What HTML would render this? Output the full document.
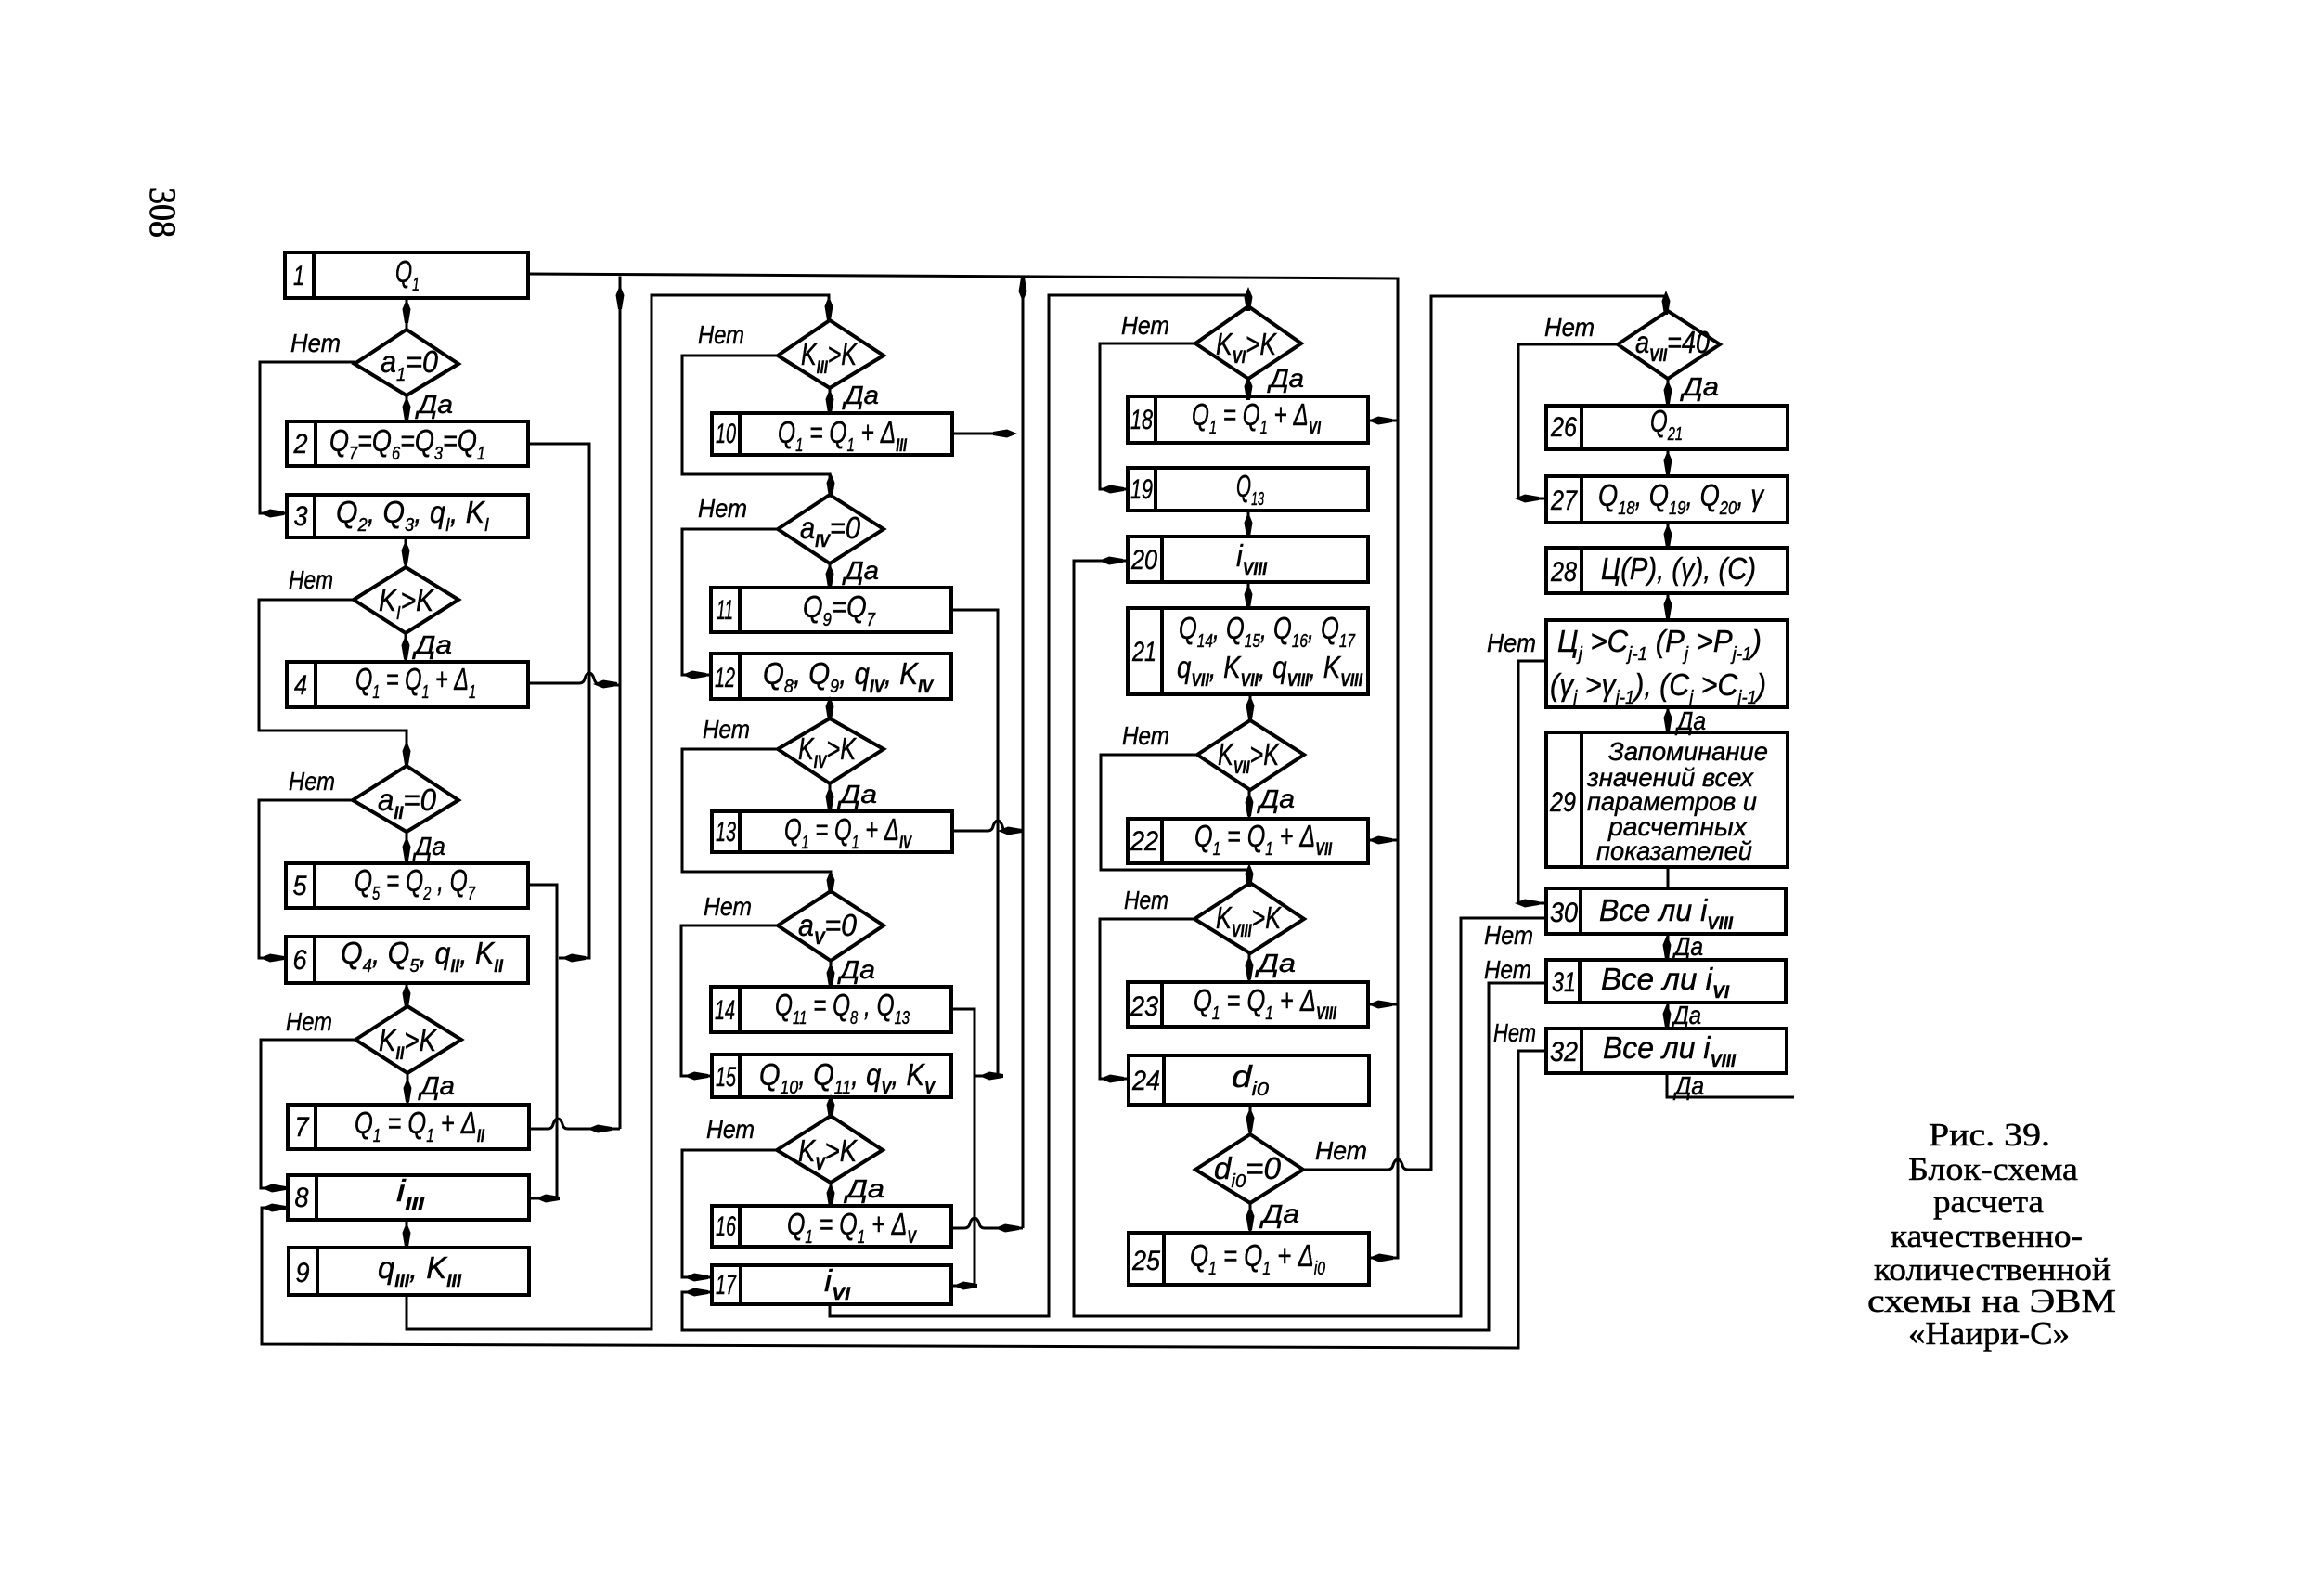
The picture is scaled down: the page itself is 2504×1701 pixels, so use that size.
<!DOCTYPE html>
<html lang="ru"><head><meta charset="utf-8"><title>Рис. 39</title>
<style>
html,body{margin:0;padding:0;background:#fff}
svg{display:block}
text{font-family:"Liberation Sans",sans-serif;font-style:italic;font-size:33px;fill:#000;stroke:#000;stroke-width:.45px}
.s{font-size:20px;baseline-shift:-9px}
.r{font-size:19px;font-weight:bold;baseline-shift:-9px}
.n{font-size:30px;text-anchor:middle}
.l{font-size:28px}
.m{font-size:28px}
.c{font-family:"Liberation Serif",serif;font-style:normal;font-size:35px;stroke-width:.5px}
.g{fill:none;stroke:#000;stroke-width:3}
.b{fill:none;stroke:#000;stroke-width:4;stroke-linejoin:miter}
</style></head><body>
<svg xmlns="http://www.w3.org/2000/svg" width="2504" height="1701" viewBox="0 0 2504 1701">
<defs>
<path id="d" d="M0-13L4.5-2L2 13H-2L-4.5-2Z"/>
<path id="h" d="M-13 0L-2-4.5L13-2V2L-2 4.5Z"/>
</defs>
<rect width="2504" height="1701" fill="#fff"/>

<!-- boxes -->
<path class="b" d="M307 272H569V321H307ZM338 272V321
M309 454H569V502H309ZM340 454V502
M309 533H569V579H309ZM339 533V579
M309 713H569V762H309ZM340 713V762
M308 930H569V978H308ZM339 930V978
M308 1009H569V1059H308ZM339 1009V1059
M310 1190H570V1238H310ZM340 1190V1238
M310 1266H570V1314H310ZM341 1266V1314
M311 1344H570V1395H311ZM342 1344V1395
M767 445H1026V490H767ZM797 445V490
M766 633H1025V681H766ZM797 633V681
M766 704H1025V753H766ZM797 704V753
M767 874H1026V918H767ZM797 874V918
M766 1063H1025V1112H766ZM797 1063V1112
M767 1136H1025V1182H767ZM797 1136V1182
M767 1299H1025V1343H767ZM797 1299V1343
M767 1363H1025V1405H767ZM798 1363V1405
M1215 427H1474V477H1215ZM1245 427V477
M1215 504H1474V550H1215ZM1245 504V550
M1215 578H1474V627H1215ZM1252 578V627
M1215 655H1474V748H1215ZM1252 655V748
M1215 882H1474V930H1215ZM1252 882V930
M1215 1058H1474V1106H1215ZM1252 1058V1106
M1216 1137H1475V1190H1216ZM1254 1137V1190
M1216 1328H1475V1384H1216ZM1254 1328V1384
M1666 437H1926V484H1666ZM1704 437V484
M1666 513H1926V563H1666ZM1704 513V563
M1666 590H1926V639H1666ZM1704 590V639
M1666 668H1926V762H1666Z
M1666 789H1926V934H1666ZM1704 789V934
M1666 957H1924V1006H1666ZM1703 957V1006
M1666 1034H1924V1080H1666ZM1702 1034V1080
M1666 1108H1925V1156H1666ZM1704 1108V1156"/>

<!-- diamonds -->
<path class="b" d="M382 392L438 355L494 392L438 426Z
M381 646L437 611L494 646L437 682Z
M380 862L438 825L494 862L438 896Z
M383 1120L439 1084L497 1120L439 1156Z
M838 383L894 345L952 383L894 418Z
M838 570L894 533L952 570L894 607Z
M838 807L894 774L952 807L894 844Z
M838 997L895 960L952 997L895 1035Z
M837 1239L895 1202L951 1239L895 1274Z
M1288 370L1345 330L1402 370L1345 408Z
M1290 813L1347 776L1405 813L1347 851Z
M1287 990L1347 951L1405 990L1347 1027Z
M1288 1260L1347 1222L1404 1260L1347 1296Z
M1743 371L1797 335L1853 371L1797 408Z"/>

<!-- connectors -->
<path class="g" d="M569 295L1506 300V1355H1475
M668 296V736M668 736V1216
M569 736H624Q629 736 630 731Q632 725 635 725Q638 725 640 731Q641 736 646 738H668
M570 1216H590Q595 1216 596 1211Q598 1205 601 1205Q604 1205 606 1211Q607 1216 612 1216H668
M569 478H635V1032H602M569 953H600V1291H570
M438 321V355M438 426V454M437 579V611M437 682V713
M382 390H280V553H309M381 646H279V787H438V825M380 862H279V1032H308
M438 896V930M438 1059V1084M439 1156V1190M383 1120H281V1280H310
M310 1301H282V1448L1636 1452V1132H1666
M438 1314V1344M438 1395V1432H702V318H893V345
M838 383H735V511H894V533M894 418V445M1026 467H1090M894 607V633M838 570H735V727H766
M1025 657H1075V1159H1050M894 753V774M838 807H735V939H895V960M894 844V874
M1026 895H1064Q1069 895 1070 890Q1072 884 1075 884Q1078 884 1080 890Q1081 895 1086 895H1102
M1102 303V1323M895 1035V1063M1025 1087H1050V1385H1025M838 997H734V1159H766M895 1182V1202
M837 1239H735V1376H767M767 1392H735V1433H1604V1059H1666M895 1274V1299
M1025 1323H1039Q1044 1323 1045 1318Q1047 1312 1050 1312Q1053 1312 1055 1318Q1056 1323 1061 1323H1102
M894 1405V1418H1130V318H1345V330
M1666 989H1574V1418H1157V604H1215
M1288 370H1185V527H1215M1345 408V427M1474 453H1506M1345 550V578M1345 627V655M1347 748V776
M1290 813H1186V937H1346V951M1346 851V882M1474 905H1506M1287 990H1185V1162H1216M1346 1027V1058M1474 1082H1506
M1347 1190V1222M1347 1296V1328
M1404 1260H1495Q1500 1260 1501 1255Q1503 1249 1506 1249Q1509 1249 1511 1255Q1512 1260 1517 1260H1542V319H1795V335
M1743 371H1636V537H1666M1797 408V437M1797 484V513M1797 563V590M1797 639V668M1797 762V789M1797 934V957
M1797 1006V1034M1797 1080V1108M1796 1156V1182H1933M1666 712H1636V973H1666"/>

<!-- arrowheads -->
<use href="#d" x="438" y="335"/><use href="#d" x="438" y="440"/><use href="#d" x="437" y="595"/><use href="#d" x="437" y="697"/>
<use href="#d" x="438" y="811"/><use href="#d" x="438" y="914"/><use href="#d" x="438" y="1072"/><use href="#d" x="439" y="1174"/>
<use href="#d" x="438" y="1330"/><use href="#d" x="893" y="332"/><use href="#d" x="894" y="432"/><use href="#d" x="895" y="522"/>
<use href="#d" x="894" y="620"/><use href="#d" x="894" y="763"/><use href="#d" x="894" y="860"/><use href="#d" x="895" y="950"/>
<use href="#d" x="895" y="1050"/><use href="#d" x="895" y="1192"/><use href="#d" x="895" y="1287"/><use href="#d" x="1345" y="322"/>
<use href="#d" x="1345" y="418"/><use href="#d" x="1345" y="565"/><use href="#d" x="1345" y="642"/><use href="#d" x="1347" y="762"/>
<use href="#d" x="1346" y="866"/><use href="#d" x="1346" y="943"/><use href="#d" x="1346" y="1042"/><use href="#d" x="1347" y="1206"/>
<use href="#d" x="1347" y="1312"/><use href="#d" x="1795" y="326"/><use href="#d" x="1797" y="422"/><use href="#d" x="1797" y="498"/>
<use href="#d" x="1797" y="577"/><use href="#d" x="1797" y="653"/><use href="#d" x="1797" y="775"/><use href="#d" x="1796" y="1020"/>
<use href="#d" x="1796" y="1094"/><use href="#d" x="668" y="320"/>
<use href="#d" transform="translate(1102 312) rotate(180)"/>
<use href="#h" x="293" y="553"/><use href="#h" x="293" y="1032"/><use href="#h" x="295" y="1280"/><use href="#h" x="295" y="1301"/>
<use href="#h" x="748" y="727"/><use href="#h" x="750" y="1159"/><use href="#h" x="750" y="1376"/><use href="#h" x="750" y="1392"/>
<use href="#h" x="1198" y="527"/><use href="#h" x="1197" y="604"/><use href="#h" x="1198" y="1162"/><use href="#h" x="1645" y="537"/><use href="#h" x="1645" y="973"/>
<use href="#h" x="652" y="737"/><use href="#h" x="618" y="1032"/><use href="#h" x="646" y="1216"/><use href="#h" x="590" y="1291"/>
<use href="#h" transform="translate(1083 467) rotate(180)"/><use href="#h" x="1088" y="895"/><use href="#h" x="1068" y="1159"/>
<use href="#h" x="1085" y="1323"/><use href="#h" x="1040" y="1385"/><use href="#h" x="1487" y="453"/><use href="#h" x="1487" y="905"/>
<use href="#h" x="1487" y="1082"/><use href="#h" x="1488" y="1355"/>

<!-- numbers -->
<text class="n" x="322" y="307" textLength="12" lengthAdjust="spacingAndGlyphs">1</text>
<text class="n" x="324" y="488" textLength="15" lengthAdjust="spacingAndGlyphs">2</text>
<text class="n" x="324" y="566" textLength="15" lengthAdjust="spacingAndGlyphs">3</text>
<text class="n" x="324" y="748" textLength="14" lengthAdjust="spacingAndGlyphs">4</text>
<text class="n" x="323" y="964" textLength="15" lengthAdjust="spacingAndGlyphs">5</text>
<text class="n" x="323" y="1044" textLength="15" lengthAdjust="spacingAndGlyphs">6</text>
<text class="n" x="325" y="1224" textLength="15" lengthAdjust="spacingAndGlyphs">7</text>
<text class="n" x="325" y="1300" textLength="15" lengthAdjust="spacingAndGlyphs">8</text>
<text class="n" x="326" y="1381" textLength="15" lengthAdjust="spacingAndGlyphs">9</text>
<text class="n" x="782" y="477" textLength="22" lengthAdjust="spacingAndGlyphs">10</text>
<text class="n" x="781" y="667" textLength="18" lengthAdjust="spacingAndGlyphs">11</text>
<text class="n" x="781" y="740" textLength="22" lengthAdjust="spacingAndGlyphs">12</text>
<text class="n" x="782" y="906" textLength="22" lengthAdjust="spacingAndGlyphs">13</text>
<text class="n" x="781" y="1098" textLength="22" lengthAdjust="spacingAndGlyphs">14</text>
<text class="n" x="782" y="1170" textLength="22" lengthAdjust="spacingAndGlyphs">15</text>
<text class="n" x="782" y="1331" textLength="22" lengthAdjust="spacingAndGlyphs">16</text>
<text class="n" x="782" y="1394" textLength="22" lengthAdjust="spacingAndGlyphs">17</text>
<text class="n" x="1230" y="462" textLength="24" lengthAdjust="spacingAndGlyphs">18</text>
<text class="n" x="1230" y="537" textLength="24" lengthAdjust="spacingAndGlyphs">19</text>
<text class="n" x="1233" y="613" textLength="28" lengthAdjust="spacingAndGlyphs">20</text>
<text class="n" x="1233" y="712" textLength="26" lengthAdjust="spacingAndGlyphs">21</text>
<text class="n" x="1233" y="916" textLength="30" lengthAdjust="spacingAndGlyphs">22</text>
<text class="n" x="1233" y="1094" textLength="30" lengthAdjust="spacingAndGlyphs">23</text>
<text class="n" x="1235" y="1174" textLength="30" lengthAdjust="spacingAndGlyphs">24</text>
<text class="n" x="1235" y="1368" textLength="30" lengthAdjust="spacingAndGlyphs">25</text>
<text class="n" x="1685" y="470" textLength="28" lengthAdjust="spacingAndGlyphs">26</text>
<text class="n" x="1685" y="549" textLength="28" lengthAdjust="spacingAndGlyphs">27</text>
<text class="n" x="1685" y="626" textLength="28" lengthAdjust="spacingAndGlyphs">28</text>
<text class="n" x="1684" y="874" textLength="28" lengthAdjust="spacingAndGlyphs">29</text>
<text class="n" x="1685" y="993" textLength="30" lengthAdjust="spacingAndGlyphs">30</text>
<text class="n" x="1685" y="1068" textLength="26" lengthAdjust="spacingAndGlyphs">31</text>
<text class="n" x="1685" y="1143" textLength="30" lengthAdjust="spacingAndGlyphs">32</text>

<!-- box text -->
<text x="426" y="304" textLength="26" lengthAdjust="spacingAndGlyphs">Q<tspan class="s">1</tspan></text>
<text x="355" y="486" textLength="168" lengthAdjust="spacingAndGlyphs">Q<tspan class="s">7</tspan>=Q<tspan class="s">6</tspan>=Q<tspan class="s">3</tspan>=Q<tspan class="s">1</tspan></text>
<text x="362" y="563" textLength="165" lengthAdjust="spacingAndGlyphs">Q<tspan class="s">2</tspan>, Q<tspan class="s">3</tspan>, q<tspan class="s">I</tspan>, K<tspan class="s">I</tspan></text>
<text x="383" y="743" textLength="130" lengthAdjust="spacingAndGlyphs">Q<tspan class="s">1</tspan> = Q<tspan class="s">1</tspan> + Δ<tspan class="s">1</tspan></text>
<text x="382" y="960" textLength="130" lengthAdjust="spacingAndGlyphs">Q<tspan class="s">5</tspan> = Q<tspan class="s">2</tspan> , Q<tspan class="s">7</tspan></text>
<text x="367" y="1038" textLength="175" lengthAdjust="spacingAndGlyphs">Q<tspan class="s">4</tspan>, Q<tspan class="s">5</tspan>, q<tspan class="r">II</tspan>, K<tspan class="r">II</tspan></text>
<text x="382" y="1221" textLength="140" lengthAdjust="spacingAndGlyphs">Q<tspan class="s">1</tspan> = Q<tspan class="s">1</tspan> + Δ<tspan class="r">II</tspan></text>
<text x="427" y="1294" textLength="30" lengthAdjust="spacingAndGlyphs">i<tspan class="r">III</tspan></text>
<text x="407" y="1377" textLength="90" lengthAdjust="spacingAndGlyphs">q<tspan class="r">III</tspan>, K<tspan class="r">III</tspan></text>
<text x="838" y="477" textLength="139" lengthAdjust="spacingAndGlyphs">Q<tspan class="s">1</tspan> = Q<tspan class="s">1</tspan> + Δ<tspan class="r">III</tspan></text>
<text x="865" y="665" textLength="78" lengthAdjust="spacingAndGlyphs">Q<tspan class="s">9</tspan>=Q<tspan class="s">7</tspan></text>
<text x="822" y="737" textLength="183" lengthAdjust="spacingAndGlyphs">Q<tspan class="s">8</tspan>, Q<tspan class="s">9</tspan>, q<tspan class="r">IV</tspan>, K<tspan class="r">IV</tspan></text>
<text x="845" y="905" textLength="137" lengthAdjust="spacingAndGlyphs">Q<tspan class="s">1</tspan> = Q<tspan class="s">1</tspan> + Δ<tspan class="r">IV</tspan></text>
<text x="835" y="1094" textLength="145" lengthAdjust="spacingAndGlyphs">Q<tspan class="s">11</tspan> = Q<tspan class="s">8</tspan> , Q<tspan class="s">13</tspan></text>
<text x="818" y="1169" textLength="189" lengthAdjust="spacingAndGlyphs">Q<tspan class="s">10</tspan>, Q<tspan class="s">11</tspan>, q<tspan class="r">V</tspan>, K<tspan class="r">V</tspan></text>
<text x="848" y="1330" textLength="139" lengthAdjust="spacingAndGlyphs">Q<tspan class="s">1</tspan> = Q<tspan class="s">1</tspan> + Δ<tspan class="r">V</tspan></text>
<text x="888" y="1391" textLength="28" lengthAdjust="spacingAndGlyphs">i<tspan class="r">VI</tspan></text>
<text x="1284" y="458" textLength="139" lengthAdjust="spacingAndGlyphs">Q<tspan class="s">1</tspan> = Q<tspan class="s">1</tspan> + Δ<tspan class="r">VI</tspan></text>
<text x="1332" y="535" textLength="30" lengthAdjust="spacingAndGlyphs">Q<tspan class="s">13</tspan></text>
<text x="1332" y="610" textLength="33" lengthAdjust="spacingAndGlyphs">i<tspan class="r">VIII</tspan></text>
<text x="1270" y="688" textLength="190" lengthAdjust="spacingAndGlyphs">Q<tspan class="s">14</tspan>, Q<tspan class="s">15</tspan>, Q<tspan class="s">16</tspan>, Q<tspan class="s">17</tspan></text>
<text x="1268" y="730" textLength="200" lengthAdjust="spacingAndGlyphs">q<tspan class="r">VII</tspan>, K<tspan class="r">VII</tspan>, q<tspan class="r">VIII</tspan>, K<tspan class="r">VIII</tspan></text>
<text x="1287" y="912" textLength="148" lengthAdjust="spacingAndGlyphs">Q<tspan class="s">1</tspan> = Q<tspan class="s">1</tspan> + Δ<tspan class="r">VII</tspan></text>
<text x="1286" y="1089" textLength="154" lengthAdjust="spacingAndGlyphs">Q<tspan class="s">1</tspan> = Q<tspan class="s">1</tspan> + Δ<tspan class="r">VIII</tspan></text>
<text x="1327" y="1171" textLength="40" lengthAdjust="spacingAndGlyphs">d<tspan class="s">i0</tspan></text>
<text x="1282" y="1364" textLength="146" lengthAdjust="spacingAndGlyphs">Q<tspan class="s">1</tspan> = Q<tspan class="s">1</tspan> + Δ<tspan class="s">i0</tspan></text>
<text x="1778" y="465" textLength="35" lengthAdjust="spacingAndGlyphs">Q<tspan class="s">21</tspan></text>
<text x="1722" y="545" textLength="178" lengthAdjust="spacingAndGlyphs">Q<tspan class="s">18</tspan>, Q<tspan class="s">19</tspan>, Q<tspan class="s">20</tspan>, γ</text>
<text x="1725" y="624" textLength="167" lengthAdjust="spacingAndGlyphs">Ц(P), (γ), (C)</text>
<text x="1678" y="702" textLength="220" lengthAdjust="spacingAndGlyphs">Ц<tspan class="s">j</tspan> &gt;C<tspan class="s">j-1</tspan>  (P<tspan class="s">j</tspan> &gt;P<tspan class="s">j-1</tspan>)</text>
<text x="1670" y="749" textLength="233" lengthAdjust="spacingAndGlyphs">(γ<tspan class="s">j</tspan> &gt;γ<tspan class="s">j-1</tspan>), (C<tspan class="s">j</tspan> &gt;C<tspan class="s">j-1</tspan>)</text>
<text class="m" x="1733" y="819" textLength="172" lengthAdjust="spacingAndGlyphs">Запоминание</text>
<text class="m" x="1710" y="847" textLength="179" lengthAdjust="spacingAndGlyphs">значений всех</text>
<text class="m" x="1710" y="873" textLength="183" lengthAdjust="spacingAndGlyphs">параметров и</text>
<text class="m" x="1733" y="900" textLength="149" lengthAdjust="spacingAndGlyphs">расчетных</text>
<text class="m" x="1720" y="926" textLength="168" lengthAdjust="spacingAndGlyphs">показателей</text>
<text x="1723" y="992" textLength="144" lengthAdjust="spacingAndGlyphs">Все ли i<tspan class="r">VIII</tspan></text>
<text x="1725" y="1066" textLength="138" lengthAdjust="spacingAndGlyphs">Все ли i<tspan class="r">VI</tspan></text>
<text x="1727" y="1140" textLength="143" lengthAdjust="spacingAndGlyphs">Все ли i<tspan class="r">VIII</tspan></text>

<!-- diamond text -->
<text x="410" y="401" textLength="62" lengthAdjust="spacingAndGlyphs">a<tspan class="s">1</tspan>=0</text>
<text x="408" y="658" textLength="59" lengthAdjust="spacingAndGlyphs">K<tspan class="s">I</tspan>&gt;K</text>
<text x="407" y="873" textLength="63" lengthAdjust="spacingAndGlyphs">a<tspan class="r">II</tspan>=0</text>
<text x="408" y="1132" textLength="62" lengthAdjust="spacingAndGlyphs">K<tspan class="r">II</tspan>&gt;K</text>
<text x="863" y="393" textLength="60" lengthAdjust="spacingAndGlyphs">K<tspan class="r">III</tspan>&gt;K</text>
<text x="862" y="580" textLength="65" lengthAdjust="spacingAndGlyphs">a<tspan class="r">IV</tspan>=0</text>
<text x="860" y="818" textLength="62" lengthAdjust="spacingAndGlyphs">K<tspan class="r">IV</tspan>&gt;K</text>
<text x="860" y="1008" textLength="63" lengthAdjust="spacingAndGlyphs">a<tspan class="r">V</tspan>=0</text>
<text x="860" y="1251" textLength="63" lengthAdjust="spacingAndGlyphs">K<tspan class="r">V</tspan>&gt;K</text>
<text x="1310" y="382" textLength="65" lengthAdjust="spacingAndGlyphs">K<tspan class="r">VI</tspan>&gt;K</text>
<text x="1312" y="824" textLength="66" lengthAdjust="spacingAndGlyphs">K<tspan class="r">VII</tspan>&gt;K</text>
<text x="1310" y="1000" textLength="70" lengthAdjust="spacingAndGlyphs">K<tspan class="r">VIII</tspan>&gt;K</text>
<text x="1308" y="1270" textLength="72" lengthAdjust="spacingAndGlyphs">d<tspan class="s">i0</tspan>=0</text>
<text x="1762" y="380" textLength="80" lengthAdjust="spacingAndGlyphs">a<tspan class="r">VII</tspan>=40</text>

<!-- Нет -->
<text class="l" x="313" y="379" textLength="54" lengthAdjust="spacingAndGlyphs">Нет</text>
<text class="l" x="311" y="634" textLength="48" lengthAdjust="spacingAndGlyphs">Нет</text>
<text class="l" x="311" y="851" textLength="50" lengthAdjust="spacingAndGlyphs">Нет</text>
<text class="l" x="308" y="1110" textLength="50" lengthAdjust="spacingAndGlyphs">Нет</text>
<text class="l" x="752" y="370" textLength="50" lengthAdjust="spacingAndGlyphs">Нет</text>
<text class="l" x="752" y="557" textLength="53" lengthAdjust="spacingAndGlyphs">Нет</text>
<text class="l" x="757" y="795" textLength="51" lengthAdjust="spacingAndGlyphs">Нет</text>
<text class="l" x="758" y="986" textLength="52" lengthAdjust="spacingAndGlyphs">Нет</text>
<text class="l" x="761" y="1226" textLength="52" lengthAdjust="spacingAndGlyphs">Нет</text>
<text class="l" x="1208" y="360" textLength="52" lengthAdjust="spacingAndGlyphs">Нет</text>
<text class="l" x="1209" y="802" textLength="51" lengthAdjust="spacingAndGlyphs">Нет</text>
<text class="l" x="1211" y="979" textLength="48" lengthAdjust="spacingAndGlyphs">Нет</text>
<text class="l" x="1417" y="1249" textLength="56" lengthAdjust="spacingAndGlyphs">Нет</text>
<text class="l" x="1664" y="362" textLength="54" lengthAdjust="spacingAndGlyphs">Нет</text>
<text class="l" x="1602" y="702" textLength="53" lengthAdjust="spacingAndGlyphs">Нет</text>
<text class="l" x="1599" y="1017" textLength="53" lengthAdjust="spacingAndGlyphs">Нет</text>
<text class="l" x="1599" y="1054" textLength="51" lengthAdjust="spacingAndGlyphs">Нет</text>
<text class="l" x="1609" y="1122" textLength="46" lengthAdjust="spacingAndGlyphs">Нет</text>

<!-- Да -->
<text class="l" x="450" y="445" textLength="38" lengthAdjust="spacingAndGlyphs">Да</text>
<text class="l" x="447" y="704" textLength="40" lengthAdjust="spacingAndGlyphs">Да</text>
<text class="l" x="447" y="921" textLength="33" lengthAdjust="spacingAndGlyphs">Да</text>
<text class="l" x="453" y="1179" textLength="37" lengthAdjust="spacingAndGlyphs">Да</text>
<text class="l" x="910" y="435" textLength="37" lengthAdjust="spacingAndGlyphs">Да</text>
<text class="l" x="910" y="624" textLength="37" lengthAdjust="spacingAndGlyphs">Да</text>
<text class="l" x="905" y="865" textLength="40" lengthAdjust="spacingAndGlyphs">Да</text>
<text class="l" x="905" y="1054" textLength="38" lengthAdjust="spacingAndGlyphs">Да</text>
<text class="l" x="912" y="1290" textLength="41" lengthAdjust="spacingAndGlyphs">Да</text>
<text class="l" x="1368" y="417" textLength="37" lengthAdjust="spacingAndGlyphs">Да</text>
<text class="l" x="1357" y="870" textLength="38" lengthAdjust="spacingAndGlyphs">Да</text>
<text class="l" x="1355" y="1047" textLength="41" lengthAdjust="spacingAndGlyphs">Да</text>
<text class="l" x="1360" y="1317" textLength="40" lengthAdjust="spacingAndGlyphs">Да</text>
<text class="l" x="1813" y="426" textLength="39" lengthAdjust="spacingAndGlyphs">Да</text>
<text class="l" x="1807" y="786" textLength="31" lengthAdjust="spacingAndGlyphs">Да</text>
<text class="l" x="1804" y="1029" textLength="31" lengthAdjust="spacingAndGlyphs">Да</text>
<text class="l" x="1803" y="1103" textLength="30" lengthAdjust="spacingAndGlyphs">Да</text>
<text class="l" x="1805" y="1179" textLength="31" lengthAdjust="spacingAndGlyphs">Да</text>

<!-- caption -->
<text class="c" x="2078" y="1234" textLength="131" lengthAdjust="spacingAndGlyphs">Рис. 39.</text>
<text class="c" x="2056" y="1271" textLength="183" lengthAdjust="spacingAndGlyphs">Блок-схема</text>
<text class="c" x="2083" y="1306" textLength="119" lengthAdjust="spacingAndGlyphs">расчета</text>
<text class="c" x="2037" y="1343" textLength="207" lengthAdjust="spacingAndGlyphs">качественно-</text>
<text class="c" x="2019" y="1379" textLength="255" lengthAdjust="spacingAndGlyphs">количественной</text>
<text class="c" x="2012" y="1413" textLength="268" lengthAdjust="spacingAndGlyphs">схемы на ЭВМ</text>
<text class="c" x="2056" y="1448" textLength="174" lengthAdjust="spacingAndGlyphs">«Наири-С»</text>

<!-- page number -->
<text transform="translate(162 202) rotate(90)" style="font-family:'Liberation Serif',serif;font-style:normal;font-size:40px;stroke-width:.7px" textLength="54" lengthAdjust="spacingAndGlyphs">308</text>
</svg>
</body></html>
